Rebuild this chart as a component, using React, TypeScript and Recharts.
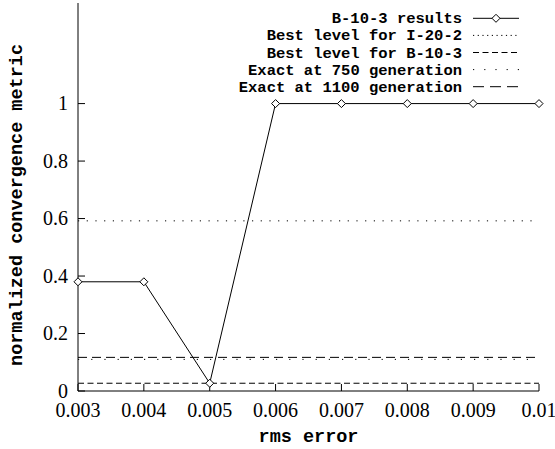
import React from 'react';
import { LineChart, Line, XAxis, YAxis, ReferenceLine, Legend } from 'recharts';

// ---- data ----
const rmsError = [0.003, 0.004, 0.005, 0.006, 0.007, 0.008, 0.009, 0.01];
const b103Results = [0.38, 0.38, 0.027, 1, 1, 1, 1, 1];
const xTicks = [0.003, 0.004, 0.005, 0.006, 0.007, 0.008, 0.009, 0.01];
const xTickLabels = ['0.003', '0.004', '0.005', '0.006', '0.007', '0.008', '0.009', '0.01'];
const yTicks = [0, 0.2, 0.4, 0.6, 0.8, 1];
const yTickLabels = ['0', '0.2', '0.4', '0.6', '0.8', '1'];
const refNames = ['Best level for I-20-2', 'Best level for B-10-3', 'Exact at 750 generation', 'Exact at 1100 generation'];
const refLevels = [0.592, 0.027, 0.11, 0.117];
const seriesName = 'B-10-3 results';
const xLabel = 'rms error';
const yLabel = 'normalized convergence metric';

// ---- styles ----
const legendDash = ['1.2 3.5', '6 3.5', '1.2 10', '11 6'];
const plotDash = ['1.2 7.5', '6 3.5', '1.2 12', '9 5'];
const W = 555;
const H = 449;
const serifFont = "'Liberation Serif', 'Times New Roman', 'DejaVu Serif', serif";
const monoFont = "'Liberation Mono', 'DejaVu Sans Mono', monospace";

const data = rmsError.map((x, i) => ({ x, v: b103Results[i] }));

const Diamond = (props: any) => {
  const { cx, cy, index } = props;
  if (cx == null || cy == null) return <g key={`d${index}`} />;
  const r = 4;
  return (
    <polygon
      key={`d${index}`}
      points={`${cx},${cy - r} ${cx + r},${cy} ${cx},${cy + r} ${cx - r},${cy}`}
      fill="#fff"
      stroke="#000"
      strokeWidth={1}
    />
  );
};

const XTick = (props: any) => {
  const { x, y, index } = props;
  return (
    <text x={x} y={y + 15} textAnchor="middle" style={{ fontFamily: serifFont, fontSize: 20 }} fill="#000">
      {xTickLabels[index]}
    </text>
  );
};

const YTick = (props: any) => {
  const { x, y, index } = props;
  return (
    <text x={x} y={y + 6.8} textAnchor="end" style={{ fontFamily: serifFont, fontSize: 20 }} fill="#000">
      {yTickLabels[index]}
    </text>
  );
};

const LegendBox = () => {
  const names = [seriesName, ...refNames];
  const x0 = 473;
  const x1 = 519;
  const textX = 462;
  const y0 = 18.3;
  const dy = 17.1;
  return (
    <svg width={W} height={110} style={{ display: 'block' }}>
      {names.map((n, i) => {
        const y = y0 + i * dy;
        return (
          <g key={n}>
            <text
              x={textX}
              y={y + 5}
              textAnchor="end"
              style={{ fontFamily: monoFont, fontWeight: 'bold', fontSize: 15.5 }}
              fill="#000"
            >
              {n}
            </text>
            <line
              x1={x0}
              x2={x1}
              y1={y}
              y2={y}
              stroke="#000"
              strokeWidth={1}
              strokeDasharray={i === 0 ? undefined : legendDash[i - 1]}
            />
            {i === 0 && <Diamond cx={(x0 + x1) / 2} cy={y} index={99} />}
          </g>
        );
      })}
    </svg>
  );
};

const XLabel = (props: any) => {
  const vb = props.viewBox || {};
  const cx = vb.x + vb.width / 2;
  return (
    <text
      x={cx}
      y={441.5}
      textAnchor="middle"
      style={{ fontFamily: monoFont, fontWeight: 'bold', fontSize: 18.5 }}
      fill="#000"
    >
      {xLabel}
    </text>
  );
};

const YLabel = () => {
  const x = 22;
  const y = 205;
  return (
    <text
      x={x}
      y={y}
      transform={`rotate(-90, ${x}, ${y})`}
      textAnchor="middle"
      style={{ fontFamily: monoFont, fontWeight: 'bold', fontSize: 18.5 }}
      fill="#000"
    >
      {yLabel}
    </text>
  );
};

export default function App() {
  return (
    <div style={{ position: 'absolute', left: 0, top: 0, width: W, height: H, background: '#fff' }}>
      <LineChart width={W} height={H} data={data} margin={{ top: 3, right: 16, left: 0, bottom: 0 }}>
        <XAxis
          xAxisId="b"
          dataKey="x"
          type="number"
          domain={[0.003, 0.01]}
          ticks={xTicks}
          interval={0}
          height={58}
          tickSize={-7}
          tickMargin={18}
          tick={(p: any) => <XTick {...p} />}
          axisLine={{ stroke: '#000' }}
          tickLine={{ stroke: '#000' }}
          label={<XLabel />}
        />
        <XAxis
          xAxisId="t"
          orientation="top"
          dataKey="x"
          type="number"
          domain={[0.003, 0.01]}
          ticks={xTicks}
          interval={0}
          height={0}
          tickSize={-7}
          tickFormatter={() => ''}
          axisLine={{ stroke: '#000' }}
          tickLine={{ stroke: '#000' }}
        />
        <YAxis
          yAxisId="l"
          type="number"
          domain={[0, 1.35]}
          ticks={yTicks}
          interval={0}
          width={78}
          tickSize={-7}
          tickMargin={17}
          tick={(p: any) => <YTick {...p} />}
          axisLine={{ stroke: '#000' }}
          tickLine={{ stroke: '#000' }}
          label={<YLabel />}
        />
        <YAxis
          yAxisId="r"
          orientation="right"
          type="number"
          domain={[0, 1.35]}
          ticks={yTicks}
          interval={0}
          width={0}
          tickSize={-7}
          tickFormatter={() => ''}
          axisLine={{ stroke: '#000' }}
          tickLine={{ stroke: '#000' }}
        />
        {refLevels.map((lv, i) => (
          <ReferenceLine
            key={refNames[i]}
            xAxisId="b"
            yAxisId="l"
            y={lv}
            stroke="#000"
            strokeWidth={1}
            strokeDasharray={plotDash[i]}
          />
        ))}
        <Line
          xAxisId="b"
          yAxisId="l"
          dataKey="v"
          name={seriesName}
          stroke="#000"
          strokeWidth={1}
          dot={<Diamond />}
          activeDot={false}
          isAnimationActive={false}
        />
        <Legend
          layout="vertical"
          align="center"
          verticalAlign="middle"
          content={<LegendBox />}
          wrapperStyle={{ position: 'absolute', left: 0, top: 0, width: W, height: 110 }}
        />
      </LineChart>
    </div>
  );
}
